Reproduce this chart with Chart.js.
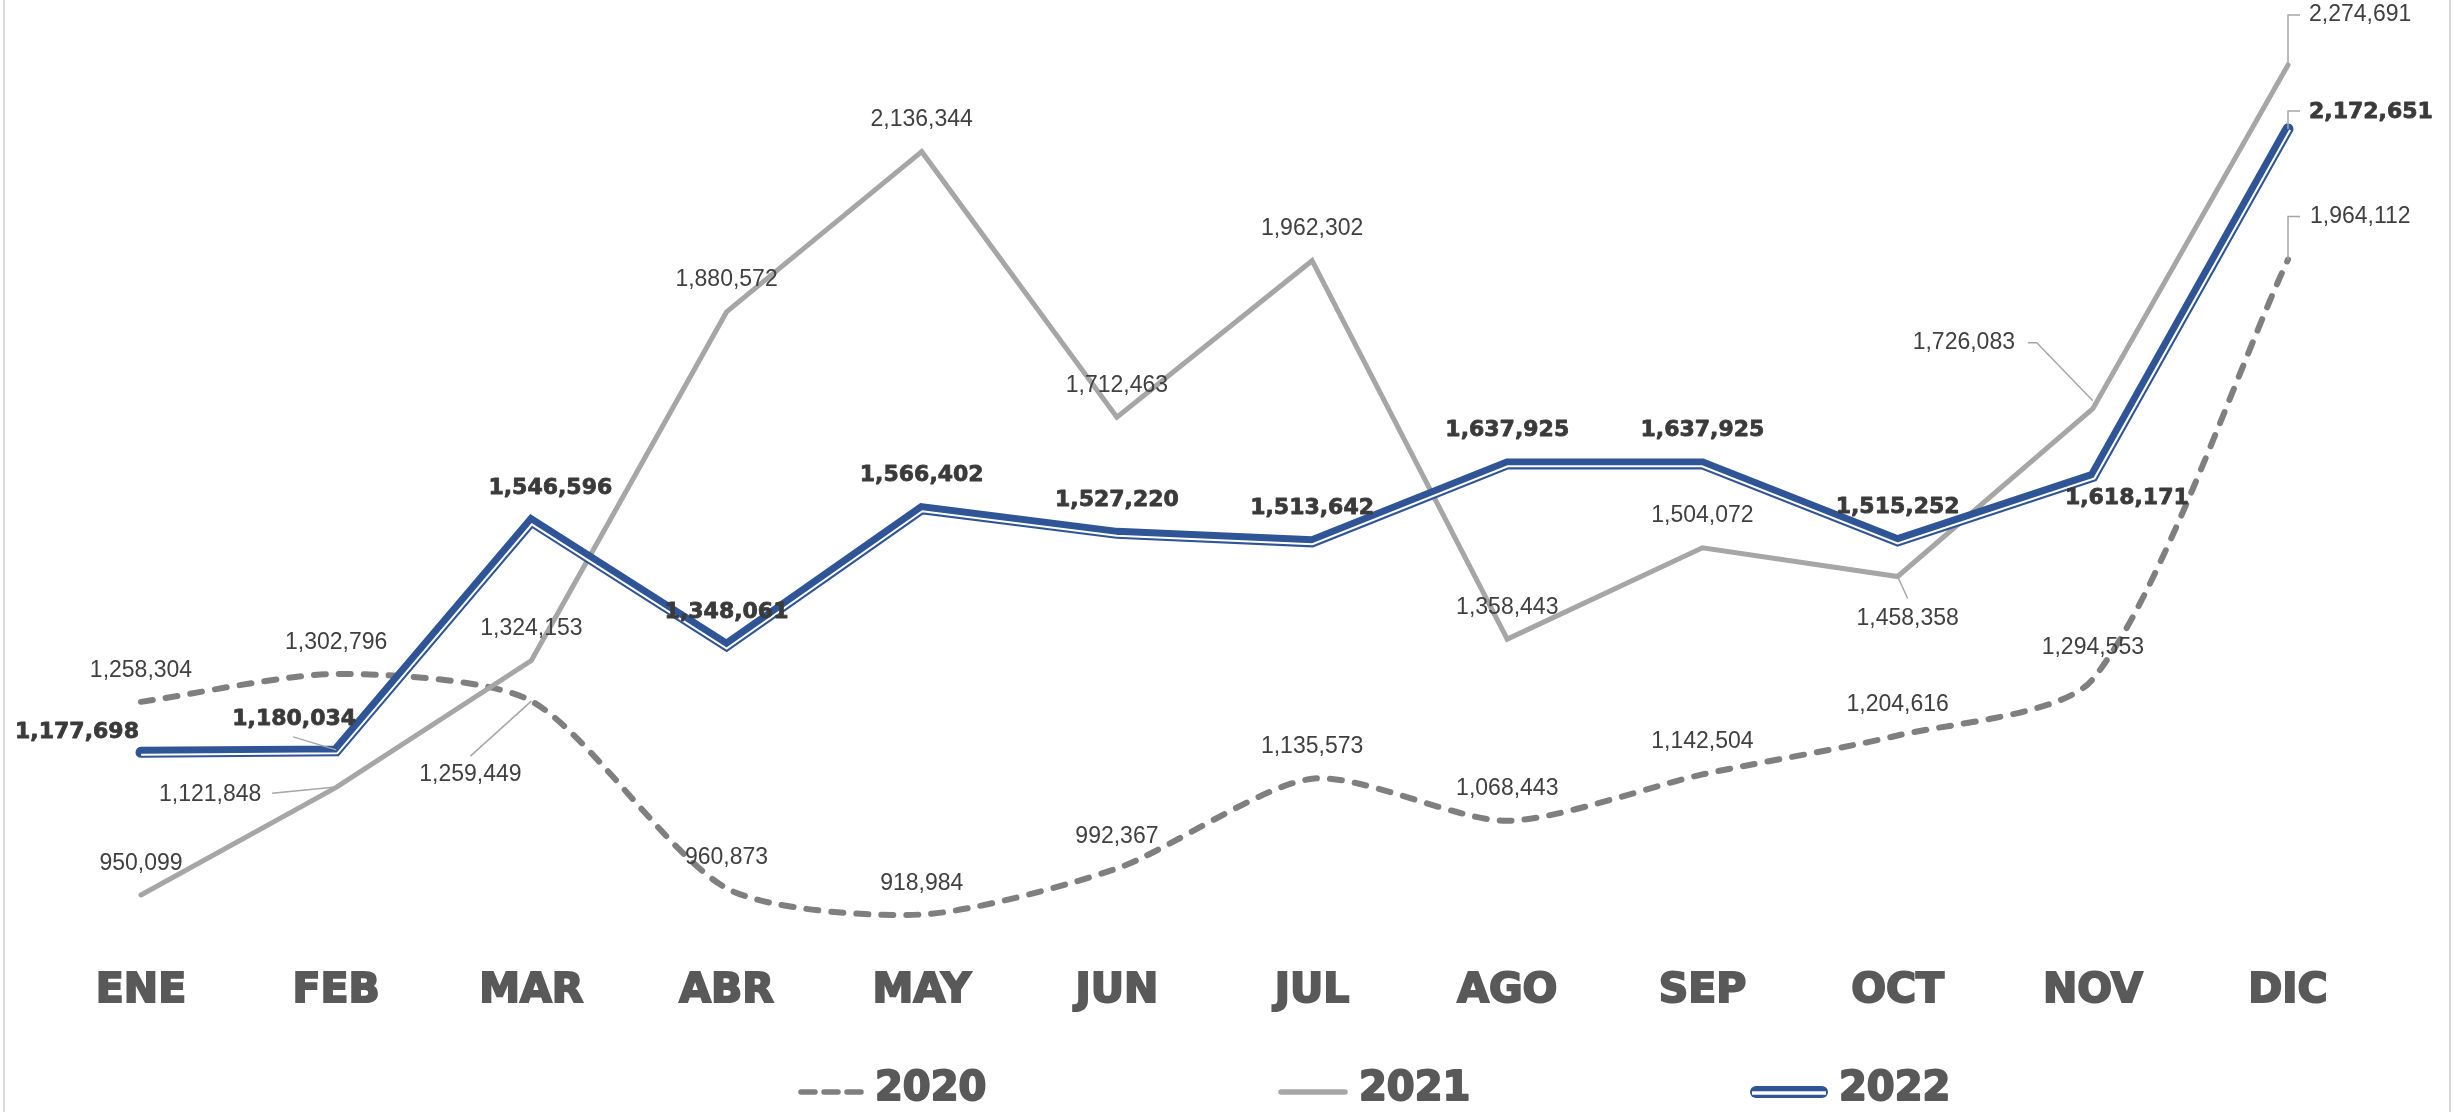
<!DOCTYPE html>
<html><head><meta charset="utf-8">
<script src="https://cdn.jsdelivr.net/npm/chart.js@4.4.1/dist/chart.umd.min.js"></script>
<style>
html,body{margin:0;padding:0;background:#fff;overflow:hidden}
#wrap{position:relative;width:2453px;height:1112px;background:#fff}
canvas{display:block}
.edge{position:absolute;top:0;bottom:0;width:2px;background:#d9d9d9}
</style></head><body>
<div id="wrap"><canvas id="c" width="2453" height="1112"></canvas>
<div class="edge" style="left:3px"></div><div class="edge" style="left:2449px"></div></div>
<script>
// ---- data ----
const months = ['ENE','FEB','MAR','ABR','MAY','JUN','JUL','AGO','SEP','OCT','NOV','DIC'];
const seriesNames = ['2020','2021','2022'];
const values2020 = [1258304, 1302796, 1259449, 960873, 918984, 992367, 1135573, 1068443, 1142504, 1204616, 1294553, 1964112];
const values2021 = [950099, 1121848, 1324153, 1880572, 2136344, 1712463, 1962302, 1358443, 1504072, 1458358, 1726083, 2274691];
const values2022 = [1177698, 1180034, 1546596, 1348061, 1566402, 1527220, 1513642, 1637925, 1637925, 1515252, 1618171, 2172651];
const yMin = 850000, yMax = 2360000;

// ---- label placement (offsets from each point, px) ----
const layout2020 = [
  {dy:-31},{dy:-31},{dx:-61,dy:74,leader:[[0,0],[-61,55]]},{dy:-31},{dy:-31},{dy:-32},
  {dy:-32},{dy:-32},{dy:-33},{dy:-31},{dy:-31},{dx:22,dy:-43,align:'left',leader:[[0,0],[0,-43],[12,-43]]}
];
const layout2021 = [
  {dy:-31},{dx:-126,dy:7,leader:[[-64,6],[-3,0]]},{dy:-32},{dy:-32},{dy:-32},{dy:-32},
  {dy:-32},{dy:-31},{dy:-32},{dx:10,dy:42,leader:[[0,0],[10,22]]},
  {dx:-129,dy:-66,leader:[[-65,-66],[-56,-66],[0,-8]]},{dx:21,dy:-50,align:'left',leader:[[0,0],[0,-50],[12,-50]]}
];
const layout2022 = [
  {dx:-64,dy:-20},{dx:-42,dy:-32,leader:[[-43,-14],[0,-1]]},{dx:19,dy:-33},{dy:-33},{dy:-34},{dy:-33},
  {dy:-34},{dy:-34},{dy:-34},{dy:-34},{dx:34,dy:22},{dx:21,dy:-17,align:'left',leader:[[0,0],[0,-18],[12,-18]]}
];

const FONT_REG = '23px "Liberation Sans", Arial, sans-serif';
const FONT_BOLD = 'bold 22px "DejaVu Sans", sans-serif';
const FONT_HEAVY = '"DejaVu Sans", sans-serif';

const compoundLine = {
  id:'compoundLine',
  afterDatasetDraw(chart, args){
    const ds = chart.data.datasets[args.index];
    if(!ds.compound) return;
    const pts = args.meta.data.map(p=>({x:p.x,y:p.y}));
    const off = ds.compound.offset, ctx = chart.ctx;
    const segN = [];
    for(let i=0;i<pts.length-1;i++){
      const dx=pts[i+1].x-pts[i].x, dy=pts[i+1].y-pts[i].y, L=Math.hypot(dx,dy);
      segN.push({x:-dy/L,y:dx/L});
    }
    const out = pts.map((p,i)=>{
      let n;
      if(i===0) n=segN[0];
      else if(i===pts.length-1) n=segN[segN.length-1];
      else{
        const a=segN[i-1], b=segN[i];
        let mx=a.x+b.x, my=a.y+b.y; const ml=Math.hypot(mx,my); mx/=ml; my/=ml;
        const c=mx*a.x+my*a.y; n={x:mx/c,y:my/c};
      }
      return {x:p.x+n.x*off, y:p.y+n.y*off};
    });
    ctx.save();
    ctx.strokeStyle = ds.compound.color; ctx.lineWidth = ds.compound.width;
    ctx.lineJoin='miter'; ctx.lineCap='butt';
    ctx.beginPath();
    out.forEach((p,i)=> i?ctx.lineTo(p.x,p.y):ctx.moveTo(p.x,p.y));
    ctx.stroke();
    ctx.restore();
  }
};

const valueLabels = {
  id:'valueLabels',
  afterDatasetsDraw(chart){
    const ctx = chart.ctx;
    ctx.save();
    ctx.strokeStyle = '#a6a6a6'; ctx.lineWidth = 1.5;
    chart.data.datasets.forEach((ds,di)=>{
      const meta = chart.getDatasetMeta(di);
      meta.data.forEach((pt,i)=>{
        const L = ds.labelLayout[i];
        if(!L.leader) return;
        ctx.beginPath();
        L.leader.forEach(([dx,dy],k)=> k?ctx.lineTo(pt.x+dx,pt.y+dy):ctx.moveTo(pt.x+dx,pt.y+dy));
        ctx.stroke();
      });
    });
    ctx.textBaseline = 'middle';
    chart.data.datasets.forEach((ds,di)=>{
      const meta = chart.getDatasetMeta(di);
      ctx.font = ds.labelBold ? FONT_BOLD : FONT_REG;
      ctx.fillStyle = ds.labelBold ? '#3a3a3a' : '#404040';
      ctx.strokeStyle = '#3a3a3a'; ctx.lineWidth = 0.8; ctx.lineJoin = 'round';
      meta.data.forEach((pt,i)=>{
        const L = ds.labelLayout[i];
        ctx.textAlign = L.align || 'center';
        const t = ds.data[i].toLocaleString('en-US');
        const x = pt.x+(L.dx||0), y = pt.y+(L.dy||0);
        if(ds.labelBold) ctx.strokeText(t, x, y);
        ctx.fillText(t, x, y);
      });
    });
    ctx.restore();
  }
};

const customLegend = {
  id:'customLegend',
  afterDraw(chart, args, opts){
    const ctx = chart.ctx;
    ctx.save();
    const y = opts.y;
    chart.data.datasets.forEach((ds,di)=>{
      const x0 = opts.starts[di], x1 = x0 + opts.sampleWidth[di];
      ctx.beginPath();
      if(ds.compound){
        ctx.strokeStyle = ds.borderColor; ctx.lineWidth = 12; ctx.lineCap='round';
        ctx.moveTo(x0+6,y); ctx.lineTo(x1-6,y); ctx.stroke();
        ctx.beginPath(); ctx.strokeStyle = '#ffffff'; ctx.lineWidth = 3.5; ctx.lineCap='butt';
        ctx.moveTo(x0+2,y+1); ctx.lineTo(x1-2,y+1); ctx.stroke();
      } else {
        ctx.strokeStyle = ds.borderColor; ctx.lineWidth = 5.5; ctx.lineCap='round';
        ctx.setLineDash(ds.borderDash && ds.borderDash.length ? [14,9] : []);
        ctx.moveTo(x0+3,y); ctx.lineTo(x1-3,y); ctx.stroke();
        ctx.setLineDash([]);
      }
      ctx.font = 'bold 40px ' + FONT_HEAVY;
      ctx.fillStyle = '#595959'; ctx.strokeStyle = '#595959'; ctx.lineWidth = 2; ctx.lineJoin = 'round';
      ctx.textAlign='left'; ctx.textBaseline='middle';
      ctx.strokeText(ds.label, x1 + opts.gap, y - 2);
      ctx.fillText(ds.label, x1 + opts.gap, y - 2);
    });
    ctx.restore();
  }
};

new Chart(document.getElementById('c'), {
  type:'line',
  data:{
    labels: months,
    datasets:[
      {label:seriesNames[0], data:values2020, borderColor:'#7f7f7f', borderWidth:6, borderDash:[12,13],
       borderCapStyle:'round', tension:0.25, pointRadius:0, order:2, clip:false,
       labelLayout:layout2020, labelBold:false},
      {label:seriesNames[1], data:values2021, borderColor:'#a6a6a6', borderWidth:5, borderJoinStyle:'miter',
       borderCapStyle:'round', tension:0, pointRadius:0, order:1, clip:false,
       labelLayout:layout2021, labelBold:false},
      {label:seriesNames[2], data:values2022, borderColor:'#2f5597', borderWidth:11, borderJoinStyle:'miter',
       borderCapStyle:'round', tension:0, pointRadius:0, order:0, clip:false,
       compound:{offset:2.4, width:2, color:'#ffffff'},
       labelLayout:layout2022, labelBold:true}
    ]
  },
  options:{
    responsive:false, animation:false, devicePixelRatio:1,
    layout:{padding:{left:141, right:165, top:11.5, bottom:87.1}},
    plugins:{
      legend:{display:false}, tooltip:{enabled:false}, title:{display:false},
      customLegend:{y:1092, starts:[798,1278,1750], sampleWidth:[66,70,78], gap:11}
    },
    scales:{
      x:{offset:false, grid:{display:false, drawTicks:false}, border:{display:false},
         ticks:{color:'#595959', font:{family:'"DejaVu Sans", sans-serif', size:41, weight:'bold'},
                textStrokeColor:'#595959', textStrokeWidth:2,
                padding:9, maxRotation:0, autoSkip:false}},
      y:{display:false, min:yMin, max:yMax}
    }
  },
  plugins:[compoundLine, valueLabels, customLegend]
});
</script>
</body></html>
